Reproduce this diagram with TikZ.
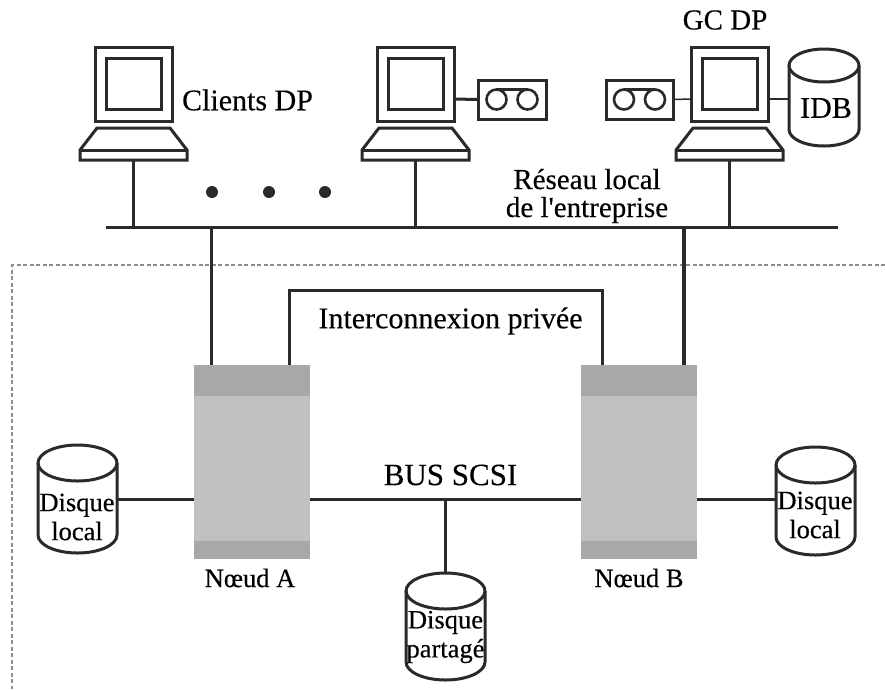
\documentclass[tikz,border=0pt]{standalone}
\usepackage{fontspec}
\setmainfont[FakeBold=0.3]{Liberation Serif}
\newfontfamily\straightap[FakeBold=0.3]{Liberation Serif}
\definecolor{ink}{HTML}{2A2A2A}
\definecolor{nodeDark}{HTML}{A8A8A8}
\definecolor{nodeLight}{HTML}{C0C0C0}
\tikzset{
  wire/.style={draw=ink,line width=3pt},
  thinwire/.style={draw=ink,line width=1.5pt},
  outline/.style={draw=ink,line width=3pt,line join=miter},
  frameline/.style={draw=black!45,line width=1.2pt,dash pattern=on 4pt off 2.5pt},
  lab/.style={inner sep=0pt,outer sep=0pt,text=black,align=center},
  big/.style={lab,font=\fontsize{30}{30}\selectfont},
  mid/.style={lab,font=\fontsize{29}{28}\selectfont},
  small/.style={lab,font=\fontsize{26.5}{29}\selectfont},
  ghost/.style={inner sep=0pt,outer sep=0pt,rectangle}
}
% name, x offset
\newcommand{\computer}[2]{%
  \begin{scope}[xshift=#2pt]
    \draw[outline] (95,47) rectangle (172,121);
    \draw[outline] (106,58) rectangle (161,109);
    \draw[outline] (97,128) -- (170,128) -- (187,150) -- (187,160) -- (80,160) -- (80,150) -- cycle;
    \draw[outline] (80,150) -- (187,150);
    \coordinate (#1base) at (133.5,160);
    \coordinate (#1right) at (172,99);
    \coordinate (#1left) at (95,99);
  \end{scope}}
% name, left, right, top, bottom
\newcommand{\tape}[5]{%
  \draw[outline] (#2,#4) rectangle (#3,#5);
  \pgfmathsetmacro{\tcx}{(#2+#3)/2}
  \pgfmathsetmacro{\tcy}{(#4+#5)/2}
  \draw[draw=ink,line width=2.6pt] (\tcx-15.5,\tcy) circle[radius=10] (\tcx+15.5,\tcy) circle[radius=10];
  \draw[draw=ink,line width=2.6pt] (\tcx-15.5,\tcy-10) -- (\tcx+15.5,\tcy-10);
  \coordinate (#1left) at (#2,\tcy);
  \coordinate (#1right) at (#3,\tcy);}
% name, cx, rx, top, bottom, ry
\newcommand{\disk}[6]{%
  \pgfmathsetmacro{\dL}{#2-#3}
  \pgfmathsetmacro{\dR}{#2+#3}
  \pgfmathsetmacro{\dT}{#4+#6}
  \pgfmathsetmacro{\dB}{#5-#6}
  \draw[outline,line join=round] (#2,\dT) ellipse[x radius=#3,y radius=#6];
  \draw[outline,line join=round] (\dL,\dT) -- (\dL,\dB) arc[start angle=180,end angle=0,x radius=#3,y radius=#6] -- (\dR,\dT);
  \coordinate (#1top) at (#2,#4);
  \coordinate (#1left) at (\dL,\dB);
  \coordinate (#1right) at (\dR,\dB);}
% name, left, right
\newcommand{\servernode}[3]{%
  \fill[nodeLight] (#2,396) rectangle (#3,541);
  \fill[nodeDark] (#2,365) rectangle (#3,396);
  \fill[nodeDark] (#2,541) rectangle (#3,559);
  \coordinate (#1tl) at (#2,365);
  \coordinate (#1tr) at (#3,365);
  \coordinate (#1l) at (#2,499);
  \coordinate (#1r) at (#3,499);}
\begin{document}
\begin{tikzpicture}[x=1pt,y=-1pt]
\useasboundingbox (0,0) rectangle (885,689);
\fill[white] (0,0) rectangle (885,689);
% dashed frame
\coordinate (frameTL) at (12,265);
\coordinate (frameTR) at (885,265);
\coordinate (frameBL) at (12,689);
\draw[frameline] (frameTR) -- (frameTL) -- (frameBL);
% bus
\coordinate (busL) at (106,227);
\coordinate (busR) at (838,227);
\draw[wire] (busL) -- (busR);
% computers
\computer{ca}{0}
\computer{cb}{282}
\computer{cc}{596}
\draw[wire] (cabase) -- (cabase |- busL);
\draw[wire] (cbbase) -- (cbbase |- busL);
\draw[wire] (ccbase) -- (ccbase |- busL);
% tapes
\tape{ta}{478}{546}{80}{119}
\tape{tb}{606}{673}{80}{119}
\draw[wire] (cbright) -- (taleft);
\draw[thinwire] (tbright) -- (ccleft);
% IDB
\disk{idb}{824}{35}{49}{146}{16.5}
\coordinate (idbconn) at (789,99);
\draw[thinwire] (ccright) -- (idbconn);
% dots
\node[ghost,circle,fill=ink,minimum size=12pt] (dota) at (212,192) {};
\node[ghost,circle,fill=ink,minimum size=12pt] (dotb) at (269,192) {};
\node[ghost,circle,fill=ink,minimum size=12pt] (dotc) at (325,192) {};
% server nodes
\servernode{na}{194}{310}
\servernode{nb}{581}{697}
\coordinate (naup) at (211,365);
\coordinate (nbup) at (684,365);
\draw[wire] (naup) -- (naup |- busL);
\draw[wire,line width=3.6pt] (nbup) -- (nbup |- busL);
\coordinate (pa) at (289,365);
\coordinate (pb) at (602,365);
\coordinate (ptop) at (445,290);
\draw[wire] (pa) -- (pa |- ptop) -- (pb |- ptop) -- (pb);
% disks
\disk{dl}{77.5}{39.5}{445}{553}{18}
\disk{dr}{815.5}{39.5}{447}{555}{18}
\disk{ds}{445.5}{39.5}{573}{680}{18}
\draw[wire] (dlright |- nal) -- (nal);
\draw[wire] (nbr) -- (drleft |- nbr);
\draw[wire] (nar) -- (nbl);
\draw[wire] (dstop) -- (dstop |- nar);
% labels
\node[big] (lclients) at (247.5,100) {Clients DP};
\node[mid] (lgc) at (725,20) {GC DP};
\node[big] (lidb) at (826,108) {IDB};
\node[mid] (lreseau) at (587,196) {Réseau local\\de l{\straightap'}entreprise};
\node[big] (lint) at (450.5,321) {Interconnexion privée};
\node[big,font=\fontsize{31}{31}\selectfont] (lbus) at (450.5,475) {BUS SCSI};
\node[small] (lna) at (250,578) {Nœud A};
\node[small] (lnb) at (639,578) {Nœud B};
\node[small] (ldl) at (77,517) {Disque\\local};
\node[small] (ldr) at (815,515) {Disque\\local};
\node[small] (lds) at (445.5,637) {Disque\\partagé};
\end{tikzpicture}
\end{document}
